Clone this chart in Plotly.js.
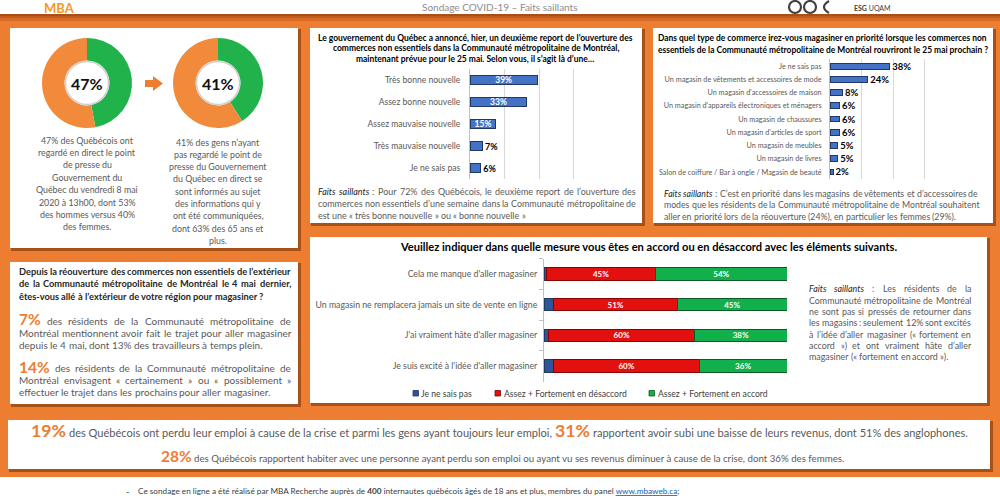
<!DOCTYPE html>
<html><head><meta charset="utf-8">
<script src="https://cdn.plot.ly/plotly-3.0.1.min.js"></script>
<style>html,body{margin:0;padding:0;background:#fff}#chart{width:1000px;height:500px}</style>
</head><body><div id="chart"></div>
<script>
// ---------------- DATA ----------------
const donutLabels = ['Oui', 'Non'];
const donut1Values = [47, 53];
const donut2Values = [41, 59];

const newsCategories = ['Très bonne nouvelle', 'Assez bonne nouvelle', 'Assez mauvaise nouvelle', 'Très mauvaise nouvelle', 'Je ne sais pas'];
const newsValues = [39, 33, 15, 7, 6];

const storeCategories = ['Je ne sais pas', 'Un magasin de vêtements et accessoires de mode', "Un magasin d'accessoires de maison", "Un magasin d'appareils électroniques et ménagers", 'Un magasin de chaussures', "Un magasin d'articles de sport", 'Un magasin de meubles', 'Un magasin de livres', 'Salon de coiffure / Bar à ongle / Magasin de beauté'];
const storeValues = [38, 24, 8, 6, 6, 6, 5, 5, 2];

const agreeStatements = ["Cela me manque d'aller magasiner", 'Un magasin ne remplacera jamais un site de vente en ligne', "J'ai vraiment hâte d'aller magasiner", "Je suis excité à l'idée d'aller magasiner"];
const agreeSeriesNames = ['Je ne sais pas', 'Assez + Fortement en désaccord', 'Assez + Fortement en accord'];
const agreeDontKnow = [1, 4, 2, 4];
const agreeDisagree = [45, 51, 60, 60];
const agreeAgree = [54, 45, 38, 36];

// ---------------- HELPERS ----------------
const W = 1000, H = 500;
const px = x => x / W, py = y => 1 - y / H;
const FONT = 'Lato';
const GRAY = '#595959', DARK = '#262626', ORANGE = '#ED7D31';
const SERIES_COLORS = ['#2F5597', '#E31010', '#12B04C'];
const SERIES_LINES = ['#1F3864', '#8B0000', '#0A5A26'];
const ctx = document.createElement('canvas').getContext('2d');
function mw(t, sz, bold, it) { ctx.font = (it ? 'italic ' : '') + (bold ? 'bold ' : '') + sz + 'px ' + FONT; return ctx.measureText(t).width; }
function fit(t, w, bold) { return 100 * w / mw(t, 100, bold); }
const ann = [], shp = [];

function rect(x0, y0, x1, y1, fill, layer, line) {
  shp.push({type: 'rect', xref: 'paper', yref: 'paper', x0: px(x0), x1: px(x1), y0: py(y1), y1: py(y0),
    fillcolor: fill, line: line || {width: 0}, layer: layer || 'below'});
}
function panel(x0, y0, x1, y1) {
  rect(x0 + 1, y0 + 1, x1 + 3, y1 + 3, 'rgba(110,45,5,0.55)');
  rect(x0, y0, x1, y1, '#FFFFFF');
}
function txt(t, x, y, sz, color, anchor, bold, it) {
  let s = t;
  if (bold) s = '<b>' + s + '</b>';
  if (it) s = '<i>' + s + '</i>';
  ann.push({xref: 'paper', yref: 'paper', x: px(x), y: py(y), xanchor: anchor || 'left', yanchor: 'middle',
    text: s, showarrow: false, borderpad: 0, font: {family: FONT, size: sz, color: color}});
}
function parseTok(tok) {
  if (/^\^.+\^$/.test(tok)) return {t: tok.slice(1, -1), big: true};
  if (/^_.+_$/.test(tok)) return {t: tok.slice(1, -1), it: true};
  return {t: tok};
}
// paragraph: lines [{t, j}], justified between x0 and x1
function para(lines, x0, x1, ys, sz, color, opt) {
  opt = opt || {};
  const bigSz = opt.bigSz || sz * 1.6;
  lines.forEach((line, i) => {
    const y = ys[i];
    const toks = line.t.split(' ').map(parseTok);
    const ws = toks.map(tk => tk.big ? mw(tk.t, bigSz, true) : mw(tk.t, sz, opt.bold, tk.it));
    const total = ws.reduce((a, b) => a + b, 0);
    const sp = mw(' ', sz, opt.bold);
    const gap = (line.j && toks.length > 1) ? (x1 - x0 - total) / (toks.length - 1) : sp;
    let x = x0;
    toks.forEach((tk, k) => {
      if (tk.big) txt(tk.t, x, y - 1.5, bigSz, ORANGE, 'left', true);
      else if (tk.it) txt(tk.t, x, y, sz, DARK, 'left', opt.bold, true);
      else txt(tk.t, x, y, sz, color, 'left', opt.bold);
      x += ws[k] + gap;
    });
  });
}
function richLine(segs, xc, y, targetW, ratio) {
  const widthAt = s => segs.reduce((a, g, k) => a + (g.big ? mw(g.t, s * ratio, true) : mw(g.t, s)) + (k ? mw(' ', s) : 0), 0);
  const s = 100 * targetW / widthAt(100);
  let x = xc - targetW / 2;
  segs.forEach((g, k) => {
    if (k) x += mw(' ', s);
    if (g.big) { txt(g.t, x, y - 2, s * ratio, ORANGE, 'left', true); x += mw(g.t, s * ratio, true); }
    else { txt(g.t, x, y, s, GRAY, 'left'); x += mw(g.t, s); }
  });
}

// ---------------- BACKGROUND ----------------
rect(0, 14, 1000, 477, ORANGE);
rect(0, 14, 1000, 16, '#A94F17');
rect(0, 16, 1000, 18, '#C25D1E');
rect(0, 18, 1000, 21, '#D96C27');

// header (small, fully visible)
txt('MBA', 59, 7.5, 13, '#F39A2C', 'center', true);
txt('Sondage COVID-19 – Faits saillants', 500, 7, 10, '#8C8C8C', 'center');
txt('<b>ESG</b> UQAM', 853, 7.5, 7, '#404040', 'left');
[[795, 6], [810, 6]].forEach(([cx, r]) => shp.push({type: 'circle', xref: 'paper', yref: 'paper', x0: px(cx - r), x1: px(cx + r), y0: py(7 + r), y1: py(7 - r),
  line: {color: '#404040', width: 2.2}, fillcolor: 'rgba(0,0,0,0)'}));
shp.push({type: 'path', xref: 'paper', yref: 'paper', path: `M ${px(829)} ${py(1)} Q ${px(819)} ${py(7)} ${px(829)} ${py(13)}`, line: {color: '#404040', width: 2.2}});

// panels
panel(10, 28, 298, 248);
panel(310, 28, 642, 223);
panel(653, 28, 993, 223);
panel(10, 262, 298, 404);
panel(310, 237, 987, 403);
panel(8, 420, 990, 469);

// ---------------- DONUT PANEL ----------------
const GREEN = '#22B24C', ORING = '#F28A3B';
[[87, donut1Values], [218, donut2Values]].forEach(([cx, vals]) => {
  shp.push({type: 'circle', xref: 'paper', yref: 'paper', x0: px(cx - 21.5), x1: px(cx + 21.5), y0: py(83 + 21.5), y1: py(83 - 21.5),
    fillcolor: '#FFFFFF', line: {color: '#CFCFCF', width: 1.5}, layer: 'above'});
  ann.push({xref: 'paper', yref: 'paper', x: px(cx), y: py(83.5), xanchor: 'center', yanchor: 'middle', text: '<b>' + vals[0] + '%</b>', showarrow: false,
    font: {family: FONT, size: 16, color: '#111'}});
});
// arrow
shp.push({type: 'path', xref: 'paper', yref: 'paper', fillcolor: ORANGE, line: {width: 0},
  path: `M ${px(145)} ${py(80)} L ${px(153)} ${py(80)} L ${px(153)} ${py(76)} L ${px(163)} ${py(83.5)} L ${px(153)} ${py(91)} L ${px(153)} ${py(87)} L ${px(145)} ${py(87)} Z`});

const dSz = fit('regardé en direct le point', 97);
const d1 = ['47% des Québécois ont', 'regardé en direct le point', 'de presse du', 'Gouvernement du', 'Québec du vendredi 8 mai', '2020 à 13h00, dont 53%', 'des hommes versus 40%', 'des femmes.'];
const d2 = ['41% des gens n’ayant', 'pas regardé le point de', 'presse du Gouvernement', 'du Québec en direct se', 'sont informés au sujet', 'des informations qui y', 'ont été communiquées,', 'dont 63% des 65 ans et', 'plus.'];
d1.forEach((l, i) => txt(l, 87, 140 + i * 12.4, dSz, GRAY, 'center'));
d2.forEach((l, i) => txt(l, 218, 142 + i * 12.3, dSz, GRAY, 'center'));

// ---------------- CHART 1 TEXT ----------------
const t1 = ['Le gouvernement du Québec a annoncé, hier, un deuxième report de l’ouverture des', 'commerces non essentiels dans la Communauté métropolitaine de Montréal,', 'maintenant prévue pour le 25 mai. Selon vous, il s’agit là d’une…'];
const t1Sz = fit(t1[0], 315, true);
t1.forEach((l, i) => txt(l, 475.5, 37.7 + i * 10.8, t1Sz, '#000', 'center', true));
const f1Sz = fit('est une « très bonne nouvelle » ou « bonne nouvelle »', 208);
para([
  {t: '_Faits_ _saillants_ : Pour 72% des Québécois, le deuxième report de l’ouverture des', j: true},
  {t: 'commerces non essentiels d’une semaine dans la Communauté métropolitaine de', j: true},
  {t: 'est une « très bonne nouvelle » ou « bonne nouvelle »', j: false}
], 317, 635, [191.7, 203.5, 215.7], f1Sz, GRAY);

// ---------------- CHART 2 TEXT ----------------
const t2 = ['Dans quel type de commerce irez-vous magasiner en priorité lorsque les commerces non', 'essentiels de la Communauté métropolitaine de Montréal rouvriront le 25 mai prochain ?'];
const t2Sz = fit(t2[0], 329, true);
t2.forEach((l, i) => txt(l, 822.5, 37.7 + i * 12.3, t2Sz, '#000', 'center', true));
const f2Sz = fit('aller en priorité lors de la réouverture (24%), en particulier les femmes (29%).', 292);
para([
  {t: '_Faits_ _saillants_ : C’est en priorité dans les magasins de vêtements et d’accessoires de'},
  {t: 'modes que les résidents de la Communauté métropolitaine de Montréal souhaitent'},
  {t: 'aller en priorité lors de la réouverture (24%), en particulier les femmes (29%).'}
], 663, 980, [193.3, 205, 216.7], f2Sz, GRAY);

// ---------------- QUESTION PANEL ----------------
const qSz = fit('êtes-vous allé à l’extérieur de votre région pour magasiner ?', 245, true);
para([
  {t: 'Depuis la réouverture des commerces non essentiels de l’extérieur', j: true},
  {t: 'de la Communauté métropolitaine de Montréal le 4 mai dernier,', j: true},
  {t: 'êtes-vous allé à l’extérieur de votre région pour magasiner ?'}
], 18, 290, [271.7, 283.8, 296], qSz, DARK, {bold: true});
const bSz = fit('depuis le 4 mai, dont 13% des travailleurs à temps plein.', 244);
para([
  {t: '^7%^ des résidents de la Communauté métropolitaine de', j: true},
  {t: 'Montréal mentionnent avoir fait le trajet pour aller magasiner', j: true},
  {t: 'depuis le 4 mai, dont 13% des travailleurs à temps plein.'},
  {t: '^14%^ des résidents de la Communauté métropolitaine de', j: true},
  {t: 'Montréal envisagent « certainement » ou « possiblement »', j: true},
  {t: 'effectuer le trajet dans les prochains pour aller magasiner.'}
], 18, 290, [320.7, 333.3, 345, 368.3, 380, 391.7], bSz, GRAY, {bigSz: bSz * 1.55});

// ---------------- STACKED PANEL TEXT ----------------
const t3 = 'Veuillez indiquer dans quelle mesure vous êtes en accord ou en désaccord avec les éléments suivants.';
txt(t3, 648.5, 246, fit(t3, 497, true), '#000', 'center', true);
const f3Sz = fit('magasiner (« fortement en accord »).', 140);
para([
  {t: '_Faits_ _saillants_ : Les résidents de la', j: true},
  {t: 'Communauté métropolitaine de Montréal', j: true},
  {t: 'ne sont pas si pressés de retourner dans', j: true},
  {t: 'les magasins : seulement 12% sont excités', j: true},
  {t: 'à l’idée d’aller magasiner (« fortement en', j: true},
  {t: 'accord ») et ont vraiment hâte d’aller', j: true},
  {t: 'magasiner (« fortement en accord »).'}
], 808, 970, [288.3, 300, 311.5, 322.8, 334, 345.3, 356.7], f3Sz, GRAY);

// legend keys for the stacked chart
const legSz = fit(agreeSeriesNames[1], 123);
[[413, 420], [495, 503], [649, 657]].forEach(([sx, tx], k) => {
  rect(sx, 390.5, sx + 5.5, 396, SERIES_COLORS[k], 'above', {color: SERIES_LINES[k], width: 0.8});
  txt(agreeSeriesNames[k], tx, 393.3, legSz, '#404040', 'left');
});

// ---------------- BOTTOM PANEL ----------------
richLine([{t: '19%', big: true}, {t: 'des Québécois ont perdu leur emploi à cause de la crise et parmi les gens ayant toujours leur emploi,'},
  {t: '31%', big: true}, {t: 'rapportent avoir subi une baisse de leurs revenus, dont 51% des anglophones.'}], 499, 432, 938, 1.6);
richLine([{t: '28%', big: true}, {t: 'des Québécois rapportent habiter avec une personne ayant perdu son emploi ou ayant vu ses revenus diminuer à cause de la crise, dont 36% des femmes.'}], 502, 458, 685, 1.6);

// footer
txt('-', 125, 491, 9, '#404040', 'left');
ann.push({xref: 'paper', yref: 'paper', x: px(137), y: py(491), xanchor: 'left', yanchor: 'middle', showarrow: false, borderpad: 0,
  text: 'Ce sondage en ligne a été réalisé par MBA Recherche auprès de <b>400</b> internautes québécois âgés de 18 ans et plus, membres du panel <span style="color:#0563C1"><u>www.mbaweb.ca</u></span>;',
  font: {family: FONT, size: fit('Ce sondage en ligne a été réalisé par MBA Recherche auprès de 400 internautes québécois âgés de 18 ans et plus, membres du panel www.mbaweb.ca;', 543), color: '#404040'}});

// ---------------- TRACES ----------------
const tick1 = fit('Assez mauvaise nouvelle', 93);
const tick2 = fit("Un magasin d'appareils électroniques et ménagers", 158);
const tick3 = fit('Un magasin ne remplacera jamais un site de vente en ligne', 222);

const stackSeries = [agreeDontKnow, agreeDisagree, agreeAgree];
const traces = [
  {type: 'pie', values: donut1Values, labels: donutLabels, hole: 0.5, sort: false, direction: 'clockwise', rotation: 0,
    textinfo: 'none', hoverinfo: 'none', showlegend: false, marker: {colors: [GREEN, ORING], line: {width: 0}},
    domain: {x: [px(42), px(132)], y: [py(128), py(38)]}},
  {type: 'pie', values: donut2Values, labels: donutLabels, hole: 0.5, sort: false, direction: 'clockwise', rotation: 0,
    textinfo: 'none', hoverinfo: 'none', showlegend: false, marker: {colors: [GREEN, ORING], line: {width: 0}},
    domain: {x: [px(173), px(263)], y: [py(128), py(38)]}},
  {type: 'bar', orientation: 'h', x: newsValues, y: newsCategories, xaxis: 'x', yaxis: 'y', width: 0.45, showlegend: false,
    marker: {color: '#4472C4', line: {color: '#1F3864', width: 1}},
    text: newsValues.map(v => '<b>' + v + '%</b>'), textposition: newsValues.map(v => v >= 10 ? 'inside' : 'outside'),
    insidetextanchor: 'middle', constraintext: 'none', cliponaxis: false,
    insidetextfont: {family: FONT, size: 8.5, color: '#FFFFFF'}, outsidetextfont: {family: FONT, size: 9, color: '#000'}},
  {type: 'bar', orientation: 'h', x: storeValues, y: storeCategories, xaxis: 'x2', yaxis: 'y2', width: 0.45, showlegend: false,
    marker: {color: '#4472C4', line: {color: '#1F3864', width: 1}},
    text: storeValues.map(v => '\u00A0<b>' + v + '%</b>'), textposition: 'outside', constraintext: 'none', cliponaxis: false,
    outsidetextfont: {family: FONT, size: 9.5, color: '#000'}}
].concat(stackSeries.map((vals, k) => ({
  type: 'bar', orientation: 'h', name: agreeSeriesNames[k], x: vals, y: agreeStatements, xaxis: 'x3', yaxis: 'y3', width: 0.4,
  showlegend: false, marker: {color: SERIES_COLORS[k], line: {color: SERIES_LINES[k], width: 1}},
  text: k === 0 ? undefined : vals.map(v => '<b>' + v + '%</b>'), textposition: k === 0 ? 'none' : 'inside',
  insidetextanchor: 'middle', constraintext: 'none', insidetextfont: {family: FONT, size: 8, color: '#FFFFFF'}
})));

const layout = {
  width: W, height: H, margin: {l: 0, r: 0, t: 0, b: 0}, paper_bgcolor: '#FFFFFF', plot_bgcolor: 'rgba(0,0,0,0)',
  barmode: 'stack', font: {family: FONT, color: GRAY}, showlegend: false,
  xaxis: {domain: [px(470), px(608)], range: [0, 80], anchor: 'y', dtick: 20, showgrid: true, gridcolor: '#D9D9D9', gridwidth: 1,
    showticklabels: false, zeroline: false, fixedrange: true},
  yaxis: {domain: [py(179), py(69)], anchor: 'x', type: 'category', autorange: 'reversed', showline: true, linecolor: '#BFBFBF',
    ticks: '', ticklabelstandoff: 7, tickfont: {family: FONT, size: tick1, color: GRAY}, fixedrange: true},
  xaxis2: {domain: [px(830), px(956)], range: [0, 80], anchor: 'y2', dtick: 20, showgrid: true, gridcolor: '#D9D9D9',
    showticklabels: false, zeroline: false, fixedrange: true},
  yaxis2: {domain: [py(178.6), py(59.4)], anchor: 'x2', type: 'category', autorange: 'reversed', showline: true, linecolor: '#BFBFBF',
    ticks: '', ticklabelstandoff: 6, tickfont: {family: FONT, size: tick2, color: GRAY}, fixedrange: true},
  xaxis3: {domain: [px(544), px(787)], range: [0, 100], anchor: 'y3', showgrid: false, showticklabels: false, zeroline: false, fixedrange: true},
  yaxis3: {domain: [py(381.5), py(258.5)], anchor: 'x3', type: 'category', autorange: 'reversed', showline: true, linecolor: '#BFBFBF',
    ticks: 'outside', tickson: 'boundaries', ticklen: 4, tickcolor: '#BFBFBF', ticklabelstandoff: 4,
    tickfont: {family: FONT, size: tick3, color: GRAY}, fixedrange: true},
  shapes: shp, annotations: ann
};

Plotly.newPlot('chart', traces, layout, {staticPlot: true, displayModeBar: false});
</script></body></html>
